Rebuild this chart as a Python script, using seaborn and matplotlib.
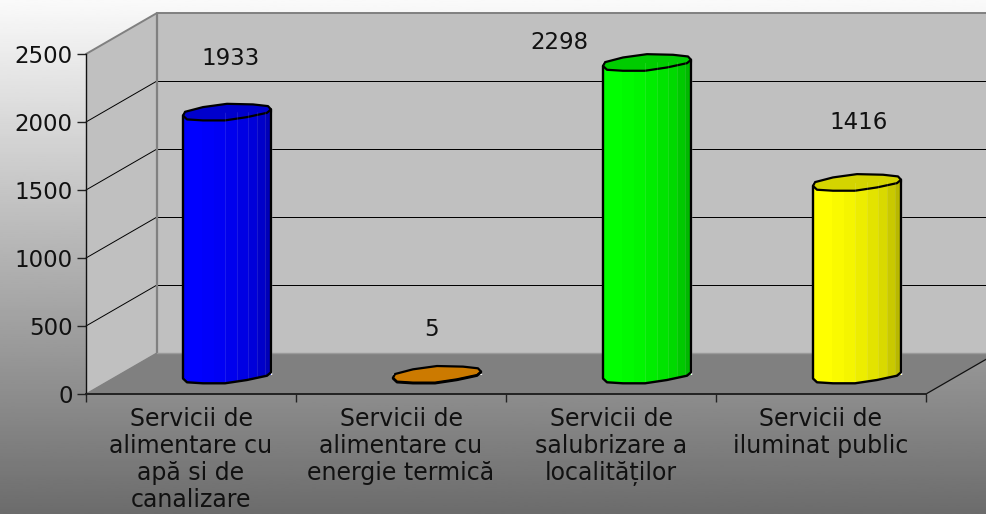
import numpy as np
import pandas as pd
import seaborn as sns
import matplotlib
matplotlib.use("Agg")
import matplotlib.pyplot as plt
from matplotlib.path import Path
from matplotlib.patches import PathPatch, Polygon

# Chart data
categories = [
    "Servicii de\nalimentare cu\napă si de\ncanalizare",
    "Servicii de\nalimentare cu\nenergie termică",
    "Servicii de\nsalubrizare a\nlocalităților",
    "Servicii de\niluminat public",
]
values = [1933, 5, 2298, 1416]
y_ticks = [0, 500, 1000, 1500, 2000, 2500]

# Styling
body_colors = ["#0000ff", "#ff9900", "#00ff00", "#ffff00"]
cap_colors = ["#0000cc", "#cc7a00", "#00cc00", "#d4d400"]
label_shift = [(4, 54), (-5, 45), (-88, 20), (2, 60)]
facet_edges = [0, .216, .35, .48, .61, .74, .84, .93, 1]
facet_levels = [1, .98, .96, .93, .89, .85, .79, .72]
cap_back = [(-42, -.3), (-24, -5), (0, -8.3), (26, -7.7), (41, -6)]
cap_front = [(-44, 3.5), (-40, 7.3), (-24, 8.3), (-2, 8.3), (20, 5), (40, .7), (44, -2.7)]

W, H = 987, 514
X0, X1, Y0, Y1 = 86, 926, 394, 54   # front plane in pixels
DX, DY = 71, 41                     # depth of the box
BX, BY = 36, 19                     # where the bars sit in the depth

sns.set_theme(style="white")
plt.rcParams['font.family'] = ['DejaVu Sans']
text_size = 17
number_size = 16.5
text_color = "#111111"

fig = plt.figure(figsize=(W / 100, H / 100), dpi=100)


def make_axes(x0, x1, y_bottom, y_top, zorder):
    a = fig.add_axes([x0 / W, 1 - y_bottom / H, (x1 - x0) / W, (y_bottom - y_top) / H])
    a.set_zorder(zorder)
    a.patch.set_visible(False)
    return a


# Background, walls and floor in pixel coordinates
bg = make_axes(0, W, H, 0, 0)
bg.imshow(np.linspace(250, 108, 256).reshape(-1, 1), cmap="gray", vmin=0, vmax=255,
          extent=[0, W, H, 0], aspect="auto")
bg.add_patch(Polygon([(X0 + DX, Y1 - DY), (W + 20, Y1 - DY), (W + 20, Y0 - DY), (X0 + DX, Y0 - DY)],
                     fc="#c0c0c0", ec="none"))
bg.add_patch(Polygon([(X0, Y1), (X0 + DX, Y1 - DY), (X0 + DX, Y0 - DY), (X0, Y0)],
                     fc="#c0c0c0", ec="none"))
bg.add_patch(Polygon([(X0, Y0), (X1, Y0), (X1 + DX, Y0 - DY), (X0 + DX, Y0 - DY)],
                     fc="#808080", ec="none"))
for v in y_ticks[1:-1]:
    y = Y0 - (Y0 - Y1) * v / y_ticks[-1]
    bg.plot([X0, X0 + DX], [y, y - DY], color="black", lw=.7)
    bg.plot([X0 + DX, W], [y - DY, y - DY], color="black", lw=.72, snap=True)
bg.plot([X0, X0 + DX, W], [Y1, Y1 - DY, Y1 - DY], color="#808080", lw=1.4)
bg.plot([X0 + DX, X0 + DX], [Y1 - DY, Y0 - DY], color="#808080", lw=1.6)
bg.plot([X0, X0 + DX], [Y0, Y0 - DY], color="#808080", lw=1)
bg.plot([X0 + DX, W], [Y0 - DY, Y0 - DY], color="#9a9a9a", lw=1)
bg.plot([X1, X1 + DX], [Y0, Y0 - DY], color="#111111", lw=.9)
bg.set_xlim(0, W)
bg.set_ylim(H, 0)
bg.axis("off")

# Front plane: ticks and labels
ax = make_axes(X0, X1, Y0, Y1, 1)
ax.set_xlim(-.5, 3.5)
ax.set_ylim(0, y_ticks[-1])
ax.set_yticks(y_ticks)
ax.set_xticks(np.arange(5) - .5)
ax.set_xticklabels([])
ax.set_xticks(range(4), categories, minor=True, linespacing=1.17)
ax.tick_params(axis="y", length=6.5, width=1, color="#222222", labelsize=number_size,
               labelcolor=text_color, pad=3, left=True)
ax.tick_params(axis="x", which="major", length=6, width=1, color="#222222", bottom=True)
ax.tick_params(axis="x", which="minor", length=0, labelsize=text_size,
               labelcolor=text_color, pad=9)
sns.despine(ax=ax)
ax.spines["left"].set_color("#111111")
ax.spines["left"].set_linewidth(1)
ax.spines["bottom"].set_color("#222222")
ax.spines["bottom"].set_linewidth(1.4)

# Bars, shifted back into the box
df = pd.DataFrame({"cat": categories, "val": values})
bar_ax = make_axes(X0 + BX, X1 + BX, Y0 - BY, Y1 - BY, 2)
sns.barplot(data=df, x="cat", y="val", hue="cat", palette=body_colors, legend=False,
            width=.42, saturation=1, ax=bar_ax)
bar_ax.set_xlim(-.5, 3.5)
bar_ax.set_ylim(0, y_ticks[-1])
bar_ax.axis("off")

# Round the bars off in pixel coordinates
top = make_axes(0, W, H, 0, 3)
for patch, body, cap, val, shift in zip(bar_ax.patches, body_colors, cap_colors, values, label_shift):
    xa, ya = bar_ax.transData.transform((patch.get_x(), patch.get_height()))
    xb, yb = bar_ax.transData.transform((patch.get_x() + patch.get_width(), 0))
    cx = (xa + xb) / 2
    y_top, y_base = H - ya, H - yb

    front = [(cx + p, y_base + q) for p, q in cap_front]
    outline = [(cx + cap_front[0][0], y_top + cap_front[0][1])] + front + \
              [(cx + cap_front[-1][0], y_top + cap_front[-1][1])]
    shape = Path(outline + [outline[0]], closed=True)
    clip = PathPatch(shape, fc="none", ec="none", transform=top.transData)
    top.add_patch(clip)

    left, right = cx + cap_front[0][0], cx + cap_front[-1][0]
    edges = [left + f * (right - left) for f in facet_edges]
    rgb = np.array(matplotlib.colors.to_rgb(body))
    shades = np.array([[rgb * lv for lv in facet_levels]])
    mesh = top.pcolormesh(edges, [y_top - 10, y_base + 12], shades, edgecolors="none")
    mesh.set_clip_path(clip)
    if val > 50:
        for e in edges[3:-1]:
            ln, = top.plot([e, e], [y_top, y_base + 12], color="white", lw=.5, alpha=.15)
            ln.set_clip_path(clip)

    top.plot(*zip(*outline), color="black", lw=1.7, solid_joinstyle="round")
    ring = cap_front + [cap_back[4], cap_back[3], cap_back[2], cap_back[1], cap_back[0]]
    top.add_patch(Polygon([(cx + p, y_top + q) for p, q in ring], closed=True, fc=cap, ec="black",
                          lw=1.6, joinstyle="round"))
    top.text(cx + shift[0], y_top - shift[1], str(val), ha="center", va="center",
             fontsize=number_size, color=text_color)
top.set_xlim(0, W)
top.set_ylim(H, 0)
top.axis("off")

fig.savefig("out.png", dpi=100)
